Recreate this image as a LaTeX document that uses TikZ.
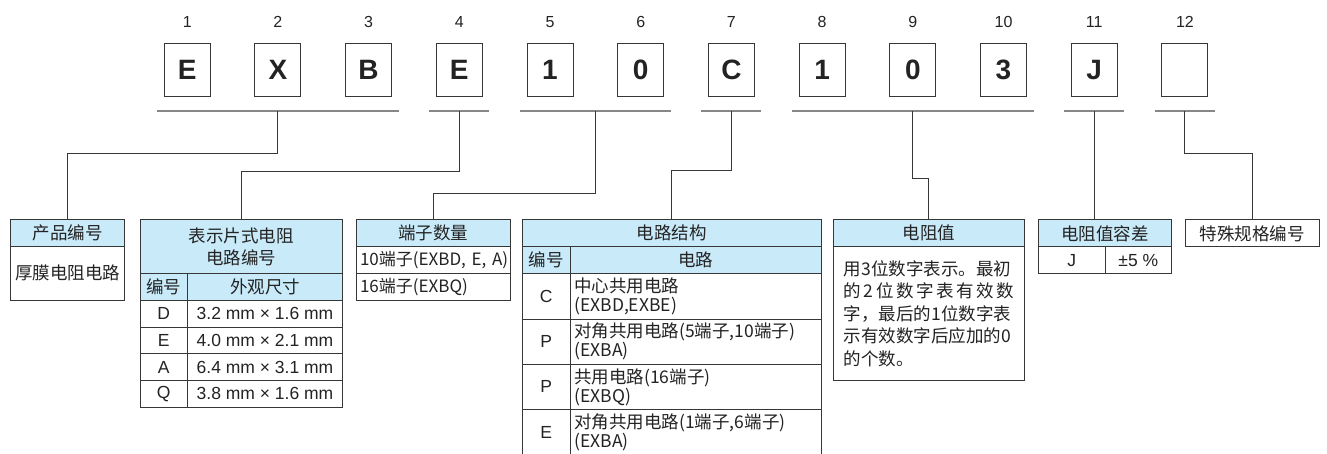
\documentclass[tikz,border=0pt]{standalone}
\usepackage{fontspec}
\setmainfont{Noto Sans CJK SC}
\newfontfamily\latinfont{Liberation Sans}
\usepackage{tikz}
\usetikzlibrary{positioning,calc}
\definecolor{hdrblue}{RGB}{201,234,249}
\definecolor{tblline}{RGB}{55,55,55}
\definecolor{brkgray}{RGB}{135,135,135}
\definecolor{txtgray}{RGB}{35,35,35}

\tikzset{
  letterbox/.style={draw=tblline, line width=1pt, minimum width=46pt, minimum height=53pt, inner sep=0pt,
    font=\latinfont\bfseries\fontsize{28}{28}\selectfont, text=txtgray},
  poslabel/.style={font=\latinfont\fontsize{16}{16}\selectfont, text=txtgray},
  bracket/.style={draw=brkgray, line width=1.2pt},
  conn/.style={draw=tblline, line width=0.9pt},
  hdr/.style={draw=tblline, fill=hdrblue, line width=1pt, outer sep=0pt, inner sep=0pt, align=center,
    text=txtgray, font=\fontsize{17.5}{21.5}\selectfont},
  cell/.style={hdr, fill=white},
  lcell/.style={cell, font=\latinfont\fontsize{17.5}{21.5}\selectfont}
}

\begin{document}
\begin{tikzpicture}[x=1pt,y=-1pt]
\useasboundingbox (0,0) rectangle (1327,454);

\foreach \i/\t in {1/E,2/X,3/B,4/E,5/1,6/0,7/C,8/1,9/0,10/3,11/J,12/{}}{
  \node[letterbox] (b\i) at ({187.2+(\i-1)*90.7},70) {\t};
  \node[poslabel] (n\i) at ({187.2+(\i-1)*90.7},22) {\i};
}
\foreach \a/\b/\k in {1/3/k1,4/4/k4,5/6/k5,7/7/k7,8/10/k8,11/11/k11,12/12/k12}{
  \draw[bracket] ($(b\a.south)+(-30,14)$) coordinate (l\k) -- ($(b\b.south)+(30,14)$) coordinate (r\k);
  \coordinate (\k) at ($(l\k)!0.5!(r\k)$);
}

\node[hdr, minimum width=113.6pt, minimum height=26.7pt, anchor=north west] (pn) at (10.7,220) {产品编号};
\node[cell, minimum width=113.6pt, minimum height=53.3pt, below=0pt of pn] (pnv) {厚膜电阻电路};

\node[hdr, minimum width=202.7pt, minimum height=53.7pt, anchor=north west] (ty) at (140,220) {表示片式电阻\\电路编号};
\node[hdr, minimum width=47.3pt, minimum height=26.6pt, anchor=north west] (tyc) at (ty.south west) {编号};
\node[hdr, minimum width=155.4pt, minimum height=26.6pt, right=0pt of tyc] (tys) {外观尺寸};
\foreach \c/\s [count=\j] in {D/3.2 mm × 1.6 mm, E/4.0 mm × 2.1 mm, A/6.4 mm × 3.1 mm, Q/3.8 mm × 1.6 mm}{
  \node[lcell, minimum width=47.3pt, minimum height=26.7pt, anchor=north west] (tyc\j) at ($(tyc.south west)+(0,{(\j-1)*26.7})$) {\c};
  \node[lcell, minimum width=155.4pt, minimum height=26.7pt, right=0pt of tyc\j] (tys\j) {\s};
}

\node[hdr, minimum width=154pt, minimum height=26.7pt, anchor=north west] (tn) at (356,220) {端子数量};
\node[cell, minimum width=154pt, minimum height=27pt, text width=146pt, align=left,
  font=\fontsize{17}{21}\selectfont, below=0pt of tn] (tn1) {\mbox{10端子(EXBD, E, A)}};
\node[cell, minimum width=154pt, minimum height=26.6pt, text width=146pt, align=left,
  font=\fontsize{17}{21}\selectfont, below=0pt of tn1] (tn2) {16端子(EXBQ)};

\node[hdr, minimum width=299pt, minimum height=26.7pt, anchor=north west] (cs) at (522.3,220) {电路结构};
\node[hdr, minimum width=48pt, minimum height=27pt, anchor=north west] (csc) at (cs.south west) {编号};
\node[hdr, minimum width=251pt, minimum height=27pt, right=0pt of csc] (css) {电路};
\foreach \c/\s [count=\j] in {C/{中心共用电路\\(EXBD,EXBE)}, P/{对角共用电路(5端子,10端子)\\(EXBA)},
    P/{共用电路(16端子)\\(EXBQ)}, E/{对角共用电路(1端子,6端子)\\(EXBA)}}{
  \node[lcell, minimum width=48pt, minimum height=45.3pt, anchor=north west] (csc\j) at ($(csc.south west)+(0,{(\j-1)*45.3})$) {\c};
  \node[cell, minimum width=251pt, minimum height=45.3pt, text width=243pt, align=left,
    font=\fontsize{17.5}{19}\selectfont, right=0pt of csc\j] (css\j) {\s};
}

\node[hdr, minimum width=191pt, minimum height=26.7pt, anchor=north west] (rv) at (833.3,220) {电阻值};
\node[cell, minimum width=191pt, minimum height=134pt, text width=170pt, align=left,
  font=\fontsize{17.5}{22.5}\selectfont, below=0pt of rv] (rvt)
  {用3位数字表示。最初\\的\hfill{}2\hfill{}位\hfill{}数\hfill{}字\hfill{}表\hfill{}有\hfill{}效\hfill{}数\\字，最后的1位数字表\\示有效数字后应加的0\\的个数。};

\node[hdr, minimum width=133.4pt, minimum height=26.7pt, anchor=north west] (rt) at (1038.3,220) {电阻值容差};
\node[lcell, minimum width=66.7pt, minimum height=27pt, anchor=north west] (rtc) at (rt.south west) {J};
\node[lcell, minimum width=66.7pt, minimum height=27pt, right=0pt of rtc] (rts) {±5 \%};

\node[cell, minimum width=133.3pt, minimum height=26.7pt, anchor=north west] (sp) at (1185.7,220) {特殊规格编号};

\draw[conn] (k1) -- ++(0,42.3) -| (pn.north);
\draw[conn] (k4) -- ++(0,60) -| (ty.north);
\draw[conn] (k5) -- ++(0,82) -| (tn.north);
\draw[conn] (k7) -- ++(0,59.7) -| (cs.north);
\draw[conn] (k8) -- ++(0,67) -| (rv.north);
\draw[conn] (k11) -- (k11 |- rt.north);
\draw[conn] (k12) -- ++(0,42.3) -| (sp.north);
\end{tikzpicture}
\end{document}
